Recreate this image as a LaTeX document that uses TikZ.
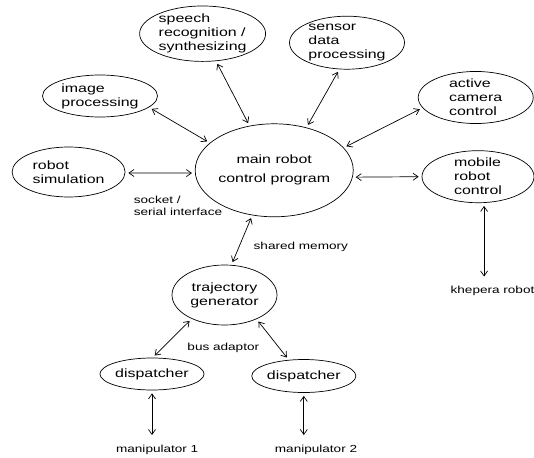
\documentclass[tikz,border=0pt]{standalone}
\usepackage{fontspec}
\setmainfont{Liberation Sans}[FakeStretch=1.33]
\usepackage{tikz}
\usetikzlibrary{shapes.geometric, arrows.meta, positioning}

\tikzset{
  proc/.style={ellipse, draw, line width=0.7pt, inner sep=0pt, align=left, font=\fontsize{12}{14}\selectfont},
  lbl/.style={font=\fontsize{10.2}{12}\selectfont, align=left, inner sep=2pt},
  link/.style={{Straight Barb[length=5pt,width=7pt]}-{Straight Barb[length=5pt,width=7pt]}, line width=0.7pt, shorten <=3pt, shorten >=3pt}
}

\begin{document}
\begin{tikzpicture}[x=1pt, y=-1pt]
  \useasboundingbox (0,0) rectangle (534,457);
  % Modules
  \node[proc, minimum width=126pt, minimum height=54pt] (speech) at (202.6,33.7) {speech\\recognition /\\synthesizing};
  \node[proc, minimum width=115pt, minimum height=53pt] (sensor) at (347,42.7) {sensor\\data\\processing};
  \node[proc, minimum width=115pt, minimum height=42pt] (image) at (100,96) {image\\processing};
  \node[proc, minimum width=115pt, minimum height=52pt] (camera) at (475.7,97.5) {active\\camera\\control};
  \node[proc, minimum width=113pt, minimum height=50pt] (sim) at (68.6,172) {robot\\simulation};
  \node[proc, minimum width=157pt, minimum height=93pt, align=center, font=\fontsize{12}{19}\selectfont] (main) at (274.2,170.3) {main robot\\control program};
  \node[proc, minimum width=112pt, minimum height=50pt] (mobile) at (478,176.7) {mobile\\robot\\control};
  \node[proc, minimum width=105pt, minimum height=60pt, align=center] (traj) at (224.5,295) {trajectory\\generator};
  \node[proc, minimum width=86pt, minimum height=32pt] (disp1) at (152,374) {dispatcher};
  \node[proc, minimum width=89pt, minimum height=33pt] (disp2) at (303.8,376) {dispatcher};
  % Labels
  \node[lbl] (sock) at (178,205.7) {socket /\\serial interface};
  \node[lbl] (shm) at (300.8,246.7) {shared memory};
  \node[lbl] (bus) at (223.3,348.3) {bus adaptor};
  \node[lbl] (m1) at (157.2,450) {manipulator 1};
  \node[lbl] (m2) at (316,450) {manipulator 2};
  \node[lbl] (kh) at (492.5,291) {khepera robot};
  % Links between modules
  \foreach \a/\b in {speech.-64/main.119, sensor.-106/main.53, image.-13/main.157,
                     camera.-169/main.18, sim.-1/main.182, main.-5/mobile.180,
                     main.-116/traj.77, traj.216/disp1.88, traj.-37/disp2.133}
    \draw[link] (\a) -- (\b);
  % Links to hardware
  \draw[link, shorten >=8pt] (disp1.south) -- (disp1.south |- m1.north);
  \draw[link, shorten >=8pt] (disp2.south) -- (disp2.south |- m2.north);
  \draw[link, shorten >=7.5pt] (mobile.-77) -- (mobile.-77 |- kh.north);
\end{tikzpicture}
\end{document}
